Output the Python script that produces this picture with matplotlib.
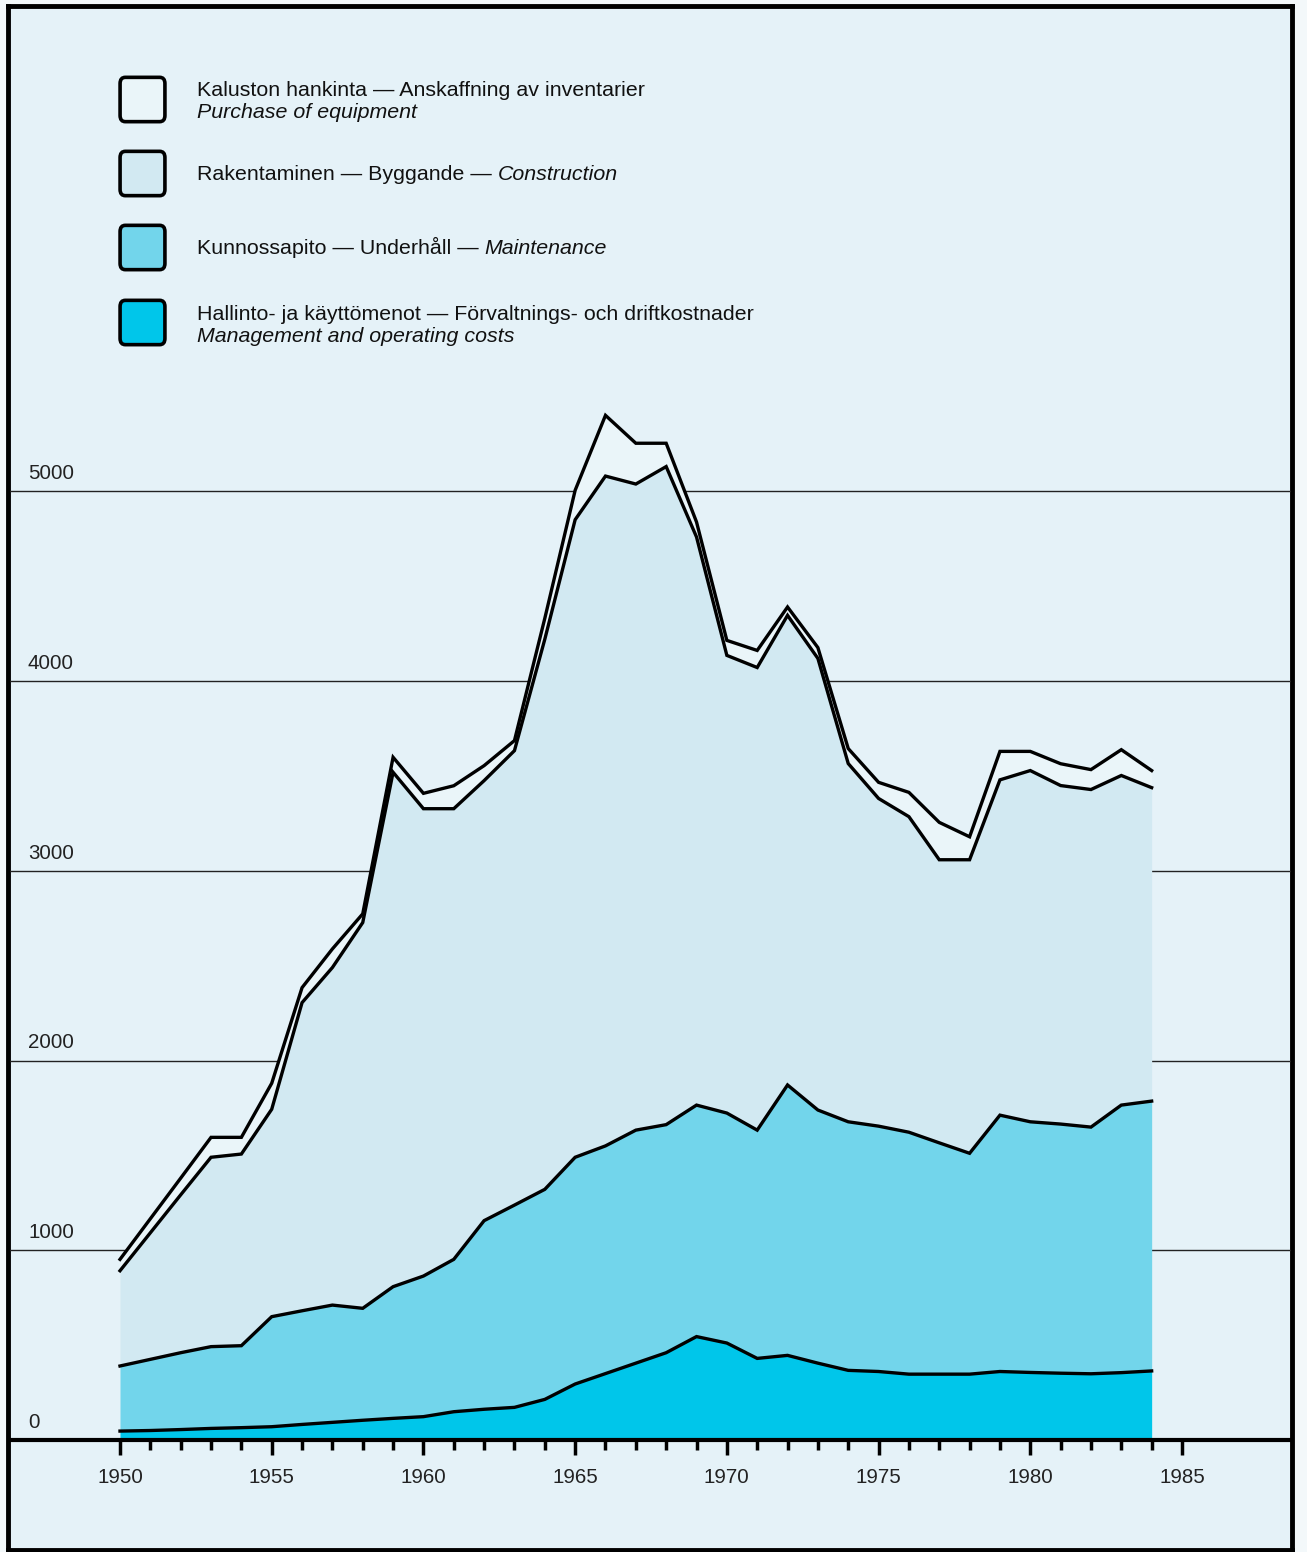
import matplotlib.pyplot as plt
from matplotlib.patches import FancyBboxPatch

W, H = 1307, 1552

years = list(range(1950, 1985))
# tops of the stacked layers
management = [47, 50, 55, 61, 65, 70, 82, 93, 104, 114, 123, 149, 162, 172, 214,
              295, 350, 405, 460, 545, 511, 430, 446, 405, 367, 361, 347, 347, 347,
              361, 356, 352, 349, 355, 364]
maintenance = [390, 425, 460, 492, 497, 650, 681, 711, 694, 808, 864, 952, 1156,
               1238, 1321, 1490, 1550, 1633, 1662, 1765, 1723, 1633, 1871, 1739,
               1677, 1654, 1622, 1566, 1511, 1712, 1677, 1665, 1649, 1765, 1786]
construction = [892, 1092, 1292, 1490, 1507, 1743, 2305, 2490, 2727, 3519, 3327,
                3327, 3475, 3633, 4220, 4850, 5080, 5038, 5130, 4759, 4135, 4071,
                4346, 4119, 3565, 3381, 3285, 3058, 3058, 3479, 3528, 3449, 3428,
                3502, 3438]
equipment = [952, 1166, 1380, 1595, 1595, 1880, 2384, 2588, 2773, 3598, 3408, 3448,
             3554, 3686, 4330, 5005, 5400, 5253, 5253, 4838, 4214, 4161, 4390, 4176,
             3644, 3466, 3413, 3255, 3179, 3629, 3629, 3564, 3533, 3638, 3528]

y_ticks = [0, 1000, 2000, 3000, 4000, 5000]
x_major = [1950, 1955, 1960, 1965, 1970, 1975, 1980, 1985]
x_minor = list(range(1950, 1986))

legend_items = [
    ("Kaluston hankinta \u2014 Anskaffning av inventarier", "", "Purchase of equipment"),
    ("Rakentaminen \u2014 Byggande \u2014", "Construction", ""),
    ("Kunnossapito \u2014 Underh\u00e5ll \u2014", "Maintenance", ""),
    ("Hallinto- ja k\u00e4ytt\u00f6menot \u2014 F\u00f6rvaltnings- och driftkostnader", "",
     "Management and operating costs"),
]

bg = '#e5f2f8'
c_equip = '#eaf5f9'
c_constr = '#d2e9f2'
c_maint = '#72d5eb'
c_mgmt = '#00c6ea'
colors = [c_equip, c_constr, c_maint, c_mgmt]

plt.rcParams['font.family'] = ['Liberation Sans', 'DejaVu Sans']

fig = plt.figure(figsize=(W / 100, H / 100), dpi=100, facecolor='#f3f8fa')

def fx(px):
    return px / W

def fy(py):
    return 1 - py / H

# page frame
frame = fig.add_axes([fx(8), fy(1550), fx(1292) - fx(8), fy(6) - fy(1550)])
frame.set_facecolor(bg)
frame.set_xticks([])
frame.set_yticks([])
for s in frame.spines.values():
    s.set_linewidth(3.5)
    s.set_color('black')
frame.set_zorder(0)

# data axes
x0, x1 = 10, 1291
ax = fig.add_axes([fx(x0), fy(1440), fx(x1) - fx(x0), fy(8) - fy(1440)])
ax.patch.set_alpha(0)
ax.set_zorder(1)
px_per_year = (1182 - 120) / 35.0
ax.set_xlim(1950 - (120 - x0) / px_per_year, 1950 + (x1 - 120) / px_per_year)
px_per_unit = 0.18975
ax.set_ylim(0, (1440 - 8) / px_per_unit)

for v in y_ticks[1:]:
    ax.axhline(v, color='#222222', lw=1.0, zorder=1)

ax.fill_between(years, construction, equipment, color=c_equip, lw=0, zorder=2)
ax.fill_between(years, maintenance, construction, color=c_constr, lw=0, zorder=2)
ax.fill_between(years, management, maintenance, color=c_maint, lw=0, zorder=2)
ax.fill_between(years, 0, management, color=c_mgmt, lw=0, zorder=2)
for series in [equipment, construction, maintenance, management]:
    ax.plot(years, series, color='black', lw=2.4, zorder=3,
            solid_joinstyle='miter')

for s in ['top', 'left', 'right']:
    ax.spines[s].set_visible(False)
ax.spines['bottom'].set_linewidth(3)
ax.spines['bottom'].set_zorder(4)

ax.set_xticks(x_major)
ax.set_xticklabels([str(y) for y in x_major])
ax.set_xticks(x_minor, minor=True)
ax.tick_params(axis='x', which='major', length=11, width=2.5, direction='out',
               labelsize=14.8, pad=9, colors='black')
ax.tick_params(axis='x', which='minor', length=7, width=2.5, direction='out')
ax.tick_params(axis='x', labelcolor='#222222')
ax.set_yticks([])

for v in y_ticks:
    ax.annotate(str(v), xy=((28 - x0) / (x1 - x0), v),
                xycoords=ax.get_yaxis_transform(),
                xytext=(0, 12), textcoords='offset pixels',
                va='baseline', ha='left', fontsize=14.8, color='#222222')

# legend drawn by hand (boxes plus mixed upright/italic labels)
box_tops = [78, 152, 226, 301]
box_w, box_h = 45, 43
text_x = 197
fs = 15.4
for (normal, ital, second), top, col in zip(legend_items, box_tops, colors):
    box = FancyBboxPatch((fx(120 + 4), fy(top + box_h - 4)),
                         fx(box_w - 8), (box_h - 8) / H,
                         boxstyle='round,pad=0.003,rounding_size=0.004',
                         transform=fig.transFigure, facecolor=col,
                         edgecolor='black', lw=2.6, zorder=5)
    fig.patches.append(box)
    center = top + box_h / 2
    if second:
        b1, b2 = center - 3, center + 19
    else:
        b1 = center + 7
    t = fig.text(fx(text_x), fy(b1), normal, fontsize=fs, va='baseline',
                 ha='left', color='#111111')
    if ital:
        fig.canvas.draw()
        bb = t.get_window_extent(fig.canvas.get_renderer())
        fig.text(fx(bb.x1 + 6), fy(b1), ital, fontsize=fs, va='baseline',
                 ha='left', style='italic', color='#111111')
    if second:
        fig.text(fx(text_x), fy(b2), second, fontsize=fs, va='baseline',
                 ha='left', style='italic', color='#111111')

fig.savefig('out.png', dpi=100, facecolor=fig.get_facecolor())
